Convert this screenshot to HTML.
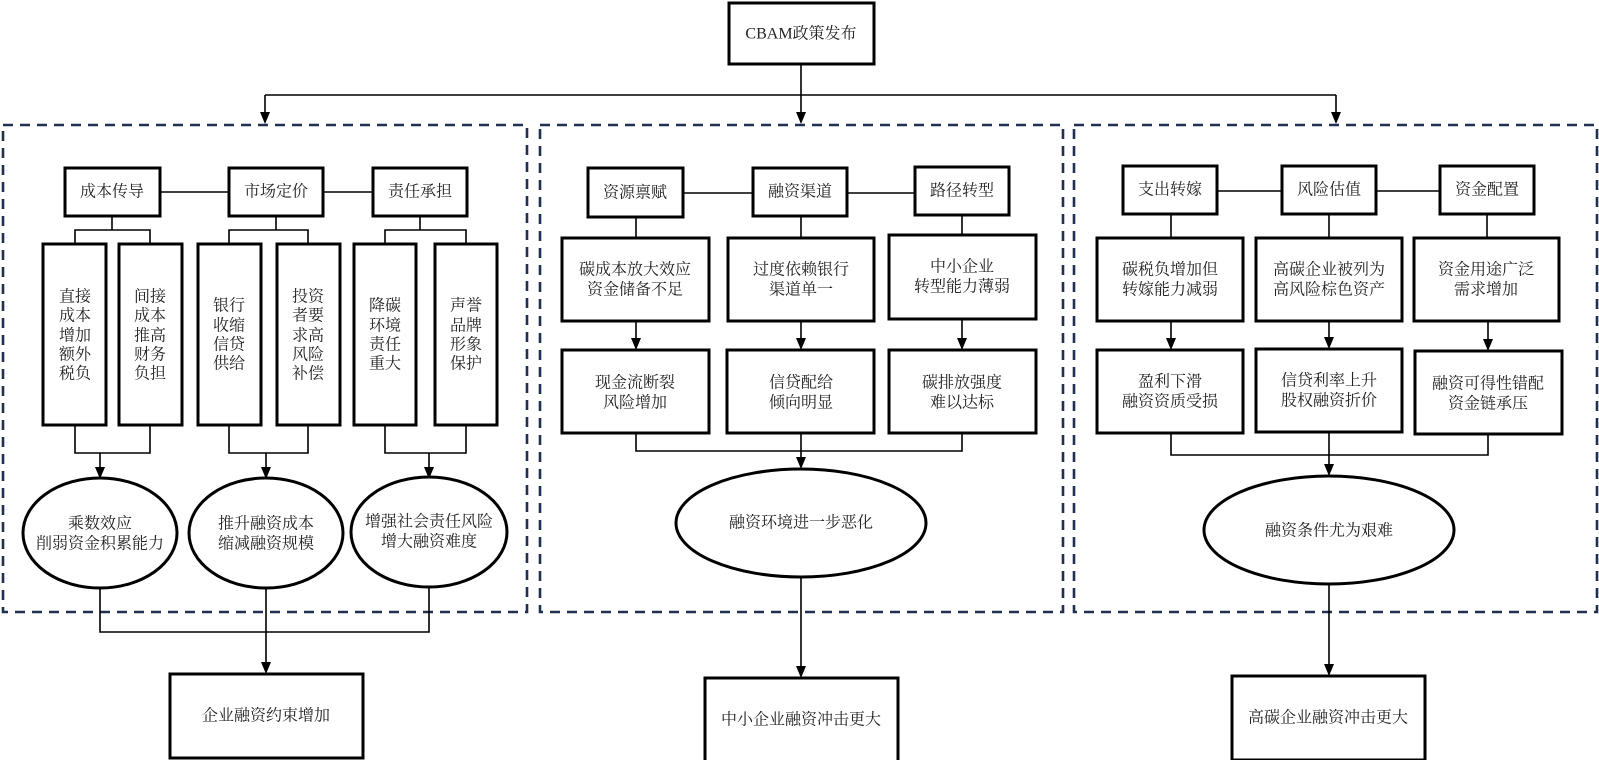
<!DOCTYPE html>
<html><head><meta charset="utf-8"><style>
html,body{margin:0;padding:0;background:#fff;}
svg{display:block;}
text{font-family:"Liberation Serif","Noto Serif CJK SC",serif;font-size:16px;fill:#222;text-anchor:middle;dominant-baseline:central;}
.b{fill:#fff;stroke:#000;stroke-width:3;}
.l{fill:none;stroke:#000;stroke-width:1.6;}
.d{fill:none;stroke:#1f3050;stroke-width:2.6;stroke-dasharray:10 7;}
</style></head><body>
<svg width="1599" height="760" viewBox="0 0 1599 760" xmlns="http://www.w3.org/2000/svg">
<defs><marker id="a" markerWidth="10" markerHeight="10" refX="5" refY="9" orient="auto" markerUnits="userSpaceOnUse" viewBox="0 0 10 10"><path d="M0,0 L10,0 L5,10 z" fill="#000" transform="rotate(0)"/></marker></defs>
<!-- arrowheads drawn manually -->
<g id="top">
<rect class="b" x="729" y="3" width="145" height="61"/>
<text x="801" y="34">CBAM政策发布</text>
<path class="l" d="M801,64 V113 M265,95 H1336 M265,95 V113 M1336,95 V113"/>
<path d="M260,112 L270,112 L265,124 z M796,112 L806,112 L801,124 z M1331,112 L1341,112 L1336,124 z"/>
</g>
<!-- panels -->
<rect class="d" x="3" y="125" width="524" height="487"/>
<rect class="d" x="540" y="125" width="523" height="487"/>
<rect class="d" x="1074" y="125" width="523" height="487"/>

<!-- Panel 1 -->
<path class="l" d="M160,192 H229 M323,192 H373"/>
<rect class="b" x="65" y="168" width="95" height="48"/><text x="112" y="192">成本传导</text>
<rect class="b" x="229" y="168" width="94" height="48"/><text x="276" y="192">市场定价</text>
<rect class="b" x="373" y="168" width="94" height="48"/><text x="420" y="192">责任承担</text>
<path class="l" d="M112,216 V230 M75,244 V230 H150 V244 M276,216 V230 M229,244 V230 H308 V244 M420,216 V230 M385,244 V230 H466 V244"/>
<rect class="b" x="43" y="244" width="63" height="181"/>
<rect class="b" x="119" y="244" width="63" height="181"/>
<rect class="b" x="198" y="244" width="63" height="181"/>
<rect class="b" x="277" y="244" width="63" height="181"/>
<rect class="b" x="354" y="244" width="62" height="181"/>
<rect class="b" x="435" y="244" width="62" height="181"/>
<g>
<text x="75" y="297">直接</text><text x="75" y="316">成本</text><text x="75" y="336">增加</text><text x="75" y="355">额外</text><text x="75" y="374">税负</text>
<text x="150" y="297">间接</text><text x="150" y="316">成本</text><text x="150" y="336">推高</text><text x="150" y="355">财务</text><text x="150" y="374">负担</text>
<text x="229" y="306">银行</text><text x="229" y="326">收缩</text><text x="229" y="345">信贷</text><text x="229" y="364">供给</text>
<text x="308" y="297">投资</text><text x="308" y="316">者要</text><text x="308" y="336">求高</text><text x="308" y="355">风险</text><text x="308" y="374">补偿</text>
<text x="385" y="306">降碳</text><text x="385" y="326">环境</text><text x="385" y="345">责任</text><text x="385" y="364">重大</text>
<text x="466" y="306">声誉</text><text x="466" y="326">品牌</text><text x="466" y="345">形象</text><text x="466" y="364">保护</text>
</g>
<path class="l" d="M75,425 V453 H150 V425 M100,453 V468 M229,425 V453 H308 V425 M266,453 V468 M385,425 V453 H466 V425 M429,453 V468"/>
<path d="M95,467 L105,467 L100,479 z M261,467 L271,467 L266,479 z M424,467 L434,467 L429,479 z"/>
<ellipse class="b" cx="100" cy="533" rx="77" ry="55"/>
<ellipse class="b" cx="266" cy="533" rx="77" ry="55"/>
<ellipse class="b" cx="429" cy="532" rx="78" ry="55"/>
<text x="100" y="524">乘数效应</text><text x="100" y="544">削弱资金积累能力</text>
<text x="266" y="524">推升融资成本</text><text x="266" y="544">缩减融资规模</text>
<text x="429" y="522">增强社会责任风险</text><text x="429" y="542">增大融资难度</text>
<path class="l" d="M100,588 V632 H429 V587 M266,588 V663"/>
<path d="M261,662 L271,662 L266,674 z"/>
<rect class="b" x="170" y="674" width="193" height="84"/><text x="266" y="716">企业融资约束增加</text>

<!-- Panel 2 -->
<path class="l" d="M683,193 H753 M847,193 H915 M636,217 V238 M801,216 V238 M962,216 V238"/>
<rect class="b" x="588" y="168" width="95" height="49"/><text x="635" y="193">资源禀赋</text>
<rect class="b" x="753" y="168" width="94" height="48"/><text x="800" y="192">融资渠道</text>
<rect class="b" x="915" y="167" width="94" height="48"/><text x="962" y="191">路径转型</text>
<rect class="b" x="562" y="238" width="147" height="83"/><text x="635" y="270">碳成本放大效应</text><text x="635" y="290">资金储备不足</text>
<rect class="b" x="728" y="238" width="146" height="83"/><text x="801" y="270">过度依赖银行</text><text x="801" y="290">渠道单一</text>
<rect class="b" x="889" y="235" width="147" height="84"/><text x="962" y="267">中小企业</text><text x="962" y="287">转型能力薄弱</text>
<path class="l" d="M636,321 V339 M801,321 V339 M962,319 V339"/>
<path d="M631,338 L641,338 L636,350 z M796,338 L806,338 L801,350 z M957,338 L967,338 L962,350 z"/>
<rect class="b" x="562" y="350" width="147" height="83"/><text x="635" y="383">现金流断裂</text><text x="635" y="403">风险增加</text>
<rect class="b" x="727" y="350" width="147" height="83"/><text x="801" y="383">信贷配给</text><text x="801" y="403">倾向明显</text>
<rect class="b" x="889" y="350" width="147" height="83"/><text x="962" y="383">碳排放强度</text><text x="962" y="403">难以达标</text>
<path class="l" d="M636,433 V451 H962 V433 M801,433 V458"/>
<path d="M796,457 L806,457 L801,469 z"/>
<ellipse class="b" cx="801" cy="523" rx="125" ry="54"/><text x="801" y="523">融资环境进一步恶化</text>
<path class="l" d="M801,577 V667"/>
<path d="M796,666 L806,666 L801,678 z"/>
<rect class="b" x="705" y="678" width="193" height="84"/><text x="801" y="720">中小企业融资冲击更大</text>

<!-- Panel 3 -->
<path class="l" d="M1217,191 H1281 M1376,191 H1440 M1171,214 V238 M1329,214 V238 M1487,214 V238"/>
<rect class="b" x="1123" y="166" width="94" height="48"/><text x="1170" y="190">支出转嫁</text>
<rect class="b" x="1282" y="166" width="94" height="48"/><text x="1329" y="190">风险估值</text>
<rect class="b" x="1440" y="166" width="94" height="48"/><text x="1487" y="190">资金配置</text>
<rect class="b" x="1097" y="238" width="146" height="83"/><text x="1170" y="270">碳税负增加但</text><text x="1170" y="290">转嫁能力减弱</text>
<rect class="b" x="1256" y="238" width="146" height="83"/><text x="1329" y="270">高碳企业被列为</text><text x="1329" y="290">高风险棕色资产</text>
<rect class="b" x="1414" y="238" width="145" height="83"/><text x="1486" y="270">资金用途广泛</text><text x="1486" y="290">需求增加</text>
<path class="l" d="M1171,321 V339 M1329,321 V338 M1488,321 V340"/>
<path d="M1166,338 L1176,338 L1171,350 z M1324,337 L1334,337 L1329,349 z M1483,339 L1493,339 L1488,351 z"/>
<rect class="b" x="1097" y="350" width="146" height="83"/><text x="1170" y="382">盈利下滑</text><text x="1170" y="402">融资资质受损</text>
<rect class="b" x="1256" y="349" width="146" height="83"/><text x="1329" y="381">信贷利率上升</text><text x="1329" y="401">股权融资折价</text>
<rect class="b" x="1415" y="351" width="147" height="83"/><text x="1488" y="384">融资可得性错配</text><text x="1488" y="404">资金链承压</text>
<path class="l" d="M1171,433 V455 H1488 V434 M1329,432 V465"/>
<path d="M1324,464 L1334,464 L1329,476 z"/>
<ellipse class="b" cx="1329" cy="530" rx="125" ry="54"/><text x="1329" y="531">融资条件尤为艰难</text>
<path class="l" d="M1329,584 V665"/>
<path d="M1324,664 L1334,664 L1329,676 z"/>
<rect class="b" x="1232" y="676" width="193" height="84"/><text x="1328" y="718">高碳企业融资冲击更大</text>
</svg>
</body></html>
